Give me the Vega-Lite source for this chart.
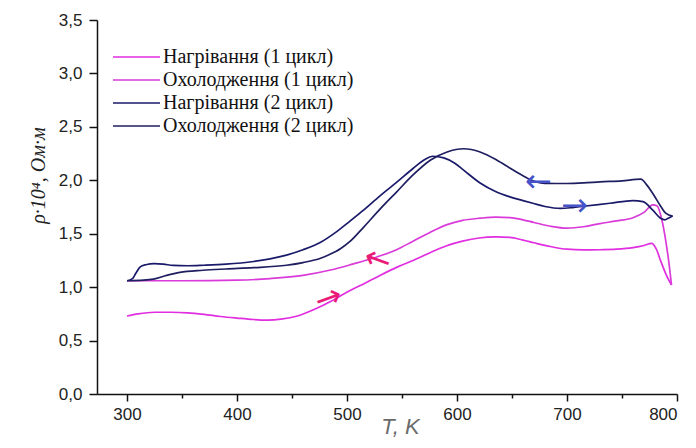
{
  "$schema": "https://vega.github.io/schema/vega-lite/v6.json",
  "width": 580,
  "height": 374,
  "autosize": "none",
  "padding": {"left": 97, "top": 20, "right": 19, "bottom": 54},
  "background": "white",
  "config": {"view": {"stroke": null}, "font": "Liberation Sans"},
  "datasets": {
    "curves": [
      {"s": "Нагрівання (1 цикл)", "T": 300, "r": 0.73},
      {"s": "Нагрівання (1 цикл)", "T": 310, "r": 0.75},
      {"s": "Нагрівання (1 цикл)", "T": 325, "r": 0.765},
      {"s": "Нагрівання (1 цикл)", "T": 340, "r": 0.765},
      {"s": "Нагрівання (1 цикл)", "T": 355, "r": 0.76},
      {"s": "Нагрівання (1 цикл)", "T": 370, "r": 0.745},
      {"s": "Нагрівання (1 цикл)", "T": 385, "r": 0.725},
      {"s": "Нагрівання (1 цикл)", "T": 400, "r": 0.71},
      {"s": "Нагрівання (1 цикл)", "T": 415, "r": 0.697},
      {"s": "Нагрівання (1 цикл)", "T": 428, "r": 0.692},
      {"s": "Нагрівання (1 цикл)", "T": 440, "r": 0.7},
      {"s": "Нагрівання (1 цикл)", "T": 455, "r": 0.73},
      {"s": "Нагрівання (1 цикл)", "T": 470, "r": 0.79},
      {"s": "Нагрівання (1 цикл)", "T": 485, "r": 0.865},
      {"s": "Нагрівання (1 цикл)", "T": 495, "r": 0.925},
      {"s": "Нагрівання (1 цикл)", "T": 505, "r": 0.98},
      {"s": "Нагрівання (1 цикл)", "T": 515, "r": 1.03},
      {"s": "Нагрівання (1 цикл)", "T": 530, "r": 1.11},
      {"s": "Нагрівання (1 цикл)", "T": 545, "r": 1.185},
      {"s": "Нагрівання (1 цикл)", "T": 560, "r": 1.25},
      {"s": "Нагрівання (1 цикл)", "T": 575, "r": 1.32},
      {"s": "Нагрівання (1 цикл)", "T": 590, "r": 1.385},
      {"s": "Нагрівання (1 цикл)", "T": 605, "r": 1.43},
      {"s": "Нагрівання (1 цикл)", "T": 620, "r": 1.46},
      {"s": "Нагрівання (1 цикл)", "T": 635, "r": 1.47},
      {"s": "Нагрівання (1 цикл)", "T": 648, "r": 1.465},
      {"s": "Нагрівання (1 цикл)", "T": 660, "r": 1.44},
      {"s": "Нагрівання (1 цикл)", "T": 670, "r": 1.415},
      {"s": "Нагрівання (1 цикл)", "T": 685, "r": 1.38},
      {"s": "Нагрівання (1 цикл)", "T": 700, "r": 1.355},
      {"s": "Нагрівання (1 цикл)", "T": 715, "r": 1.348},
      {"s": "Нагрівання (1 цикл)", "T": 730, "r": 1.35},
      {"s": "Нагрівання (1 цикл)", "T": 745, "r": 1.355},
      {"s": "Нагрівання (1 цикл)", "T": 760, "r": 1.37},
      {"s": "Нагрівання (1 цикл)", "T": 770, "r": 1.39},
      {"s": "Нагрівання (1 цикл)", "T": 777, "r": 1.41},
      {"s": "Нагрівання (1 цикл)", "T": 781, "r": 1.36},
      {"s": "Нагрівання (1 цикл)", "T": 785, "r": 1.25},
      {"s": "Нагрівання (1 цикл)", "T": 790, "r": 1.12},
      {"s": "Нагрівання (1 цикл)", "T": 795, "r": 1.02},

      {"s": "Охолодження (1 цикл)", "T": 300, "r": 1.06},
      {"s": "Охолодження (1 цикл)", "T": 320, "r": 1.06},
      {"s": "Охолодження (1 цикл)", "T": 350, "r": 1.06},
      {"s": "Охолодження (1 цикл)", "T": 400, "r": 1.065},
      {"s": "Охолодження (1 цикл)", "T": 430, "r": 1.08},
      {"s": "Охолодження (1 цикл)", "T": 460, "r": 1.11},
      {"s": "Охолодження (1 цикл)", "T": 485, "r": 1.16},
      {"s": "Охолодження (1 цикл)", "T": 505, "r": 1.215},
      {"s": "Охолодження (1 цикл)", "T": 525, "r": 1.275},
      {"s": "Охолодження (1 цикл)", "T": 545, "r": 1.35},
      {"s": "Охолодження (1 цикл)", "T": 560, "r": 1.43},
      {"s": "Охолодження (1 цикл)", "T": 575, "r": 1.51},
      {"s": "Охолодження (1 цикл)", "T": 591, "r": 1.585},
      {"s": "Охолодження (1 цикл)", "T": 605, "r": 1.625},
      {"s": "Охолодження (1 цикл)", "T": 621, "r": 1.645},
      {"s": "Охолодження (1 цикл)", "T": 635, "r": 1.655},
      {"s": "Охолодження (1 цикл)", "T": 648, "r": 1.65},
      {"s": "Охолодження (1 цикл)", "T": 660, "r": 1.63},
      {"s": "Охолодження (1 цикл)", "T": 670, "r": 1.605},
      {"s": "Охолодження (1 цикл)", "T": 685, "r": 1.57},
      {"s": "Охолодження (1 цикл)", "T": 700, "r": 1.552},
      {"s": "Охолодження (1 цикл)", "T": 715, "r": 1.565},
      {"s": "Охолодження (1 цикл)", "T": 730, "r": 1.595},
      {"s": "Охолодження (1 цикл)", "T": 745, "r": 1.62},
      {"s": "Охолодження (1 цикл)", "T": 760, "r": 1.65},
      {"s": "Охолодження (1 цикл)", "T": 770, "r": 1.7},
      {"s": "Охолодження (1 цикл)", "T": 778, "r": 1.77},
      {"s": "Охолодження (1 цикл)", "T": 782, "r": 1.76},
      {"s": "Охолодження (1 цикл)", "T": 786, "r": 1.64},
      {"s": "Охолодження (1 цикл)", "T": 790, "r": 1.42},
      {"s": "Охолодження (1 цикл)", "T": 793, "r": 1.2},
      {"s": "Охолодження (1 цикл)", "T": 795, "r": 1.02},

      {"s": "Нагрівання (2 цикл)", "T": 300, "r": 1.06},
      {"s": "Нагрівання (2 цикл)", "T": 305, "r": 1.08},
      {"s": "Нагрівання (2 цикл)", "T": 308, "r": 1.13},
      {"s": "Нагрівання (2 цикл)", "T": 312, "r": 1.19},
      {"s": "Нагрівання (2 цикл)", "T": 317, "r": 1.21},
      {"s": "Нагрівання (2 цикл)", "T": 325, "r": 1.22},
      {"s": "Нагрівання (2 цикл)", "T": 333, "r": 1.215},
      {"s": "Нагрівання (2 цикл)", "T": 342, "r": 1.203},
      {"s": "Нагрівання (2 цикл)", "T": 355, "r": 1.2},
      {"s": "Нагрівання (2 цикл)", "T": 370, "r": 1.205},
      {"s": "Нагрівання (2 цикл)", "T": 390, "r": 1.215},
      {"s": "Нагрівання (2 цикл)", "T": 415, "r": 1.24},
      {"s": "Нагрівання (2 цикл)", "T": 430, "r": 1.265},
      {"s": "Нагрівання (2 цикл)", "T": 445, "r": 1.3},
      {"s": "Нагрівання (2 цикл)", "T": 460, "r": 1.35},
      {"s": "Нагрівання (2 цикл)", "T": 476, "r": 1.42},
      {"s": "Нагрівання (2 цикл)", "T": 490, "r": 1.515},
      {"s": "Нагрівання (2 цикл)", "T": 503, "r": 1.62},
      {"s": "Нагрівання (2 цикл)", "T": 515, "r": 1.72},
      {"s": "Нагрівання (2 цикл)", "T": 530, "r": 1.855},
      {"s": "Нагрівання (2 цикл)", "T": 545, "r": 1.98},
      {"s": "Нагрівання (2 цикл)", "T": 560, "r": 2.11},
      {"s": "Нагрівання (2 цикл)", "T": 570, "r": 2.19},
      {"s": "Нагрівання (2 цикл)", "T": 578, "r": 2.225},
      {"s": "Нагрівання (2 цикл)", "T": 588, "r": 2.21},
      {"s": "Нагрівання (2 цикл)", "T": 598, "r": 2.16},
      {"s": "Нагрівання (2 цикл)", "T": 606, "r": 2.095},
      {"s": "Нагрівання (2 цикл)", "T": 621, "r": 1.975},
      {"s": "Нагрівання (2 цикл)", "T": 635, "r": 1.895},
      {"s": "Нагрівання (2 цикл)", "T": 648, "r": 1.845},
      {"s": "Нагрівання (2 цикл)", "T": 660, "r": 1.81},
      {"s": "Нагрівання (2 цикл)", "T": 669, "r": 1.785},
      {"s": "Нагрівання (2 цикл)", "T": 680, "r": 1.755},
      {"s": "Нагрівання (2 цикл)", "T": 694, "r": 1.737},
      {"s": "Нагрівання (2 цикл)", "T": 705, "r": 1.745},
      {"s": "Нагрівання (2 цикл)", "T": 715, "r": 1.757},
      {"s": "Нагрівання (2 цикл)", "T": 739, "r": 1.785},
      {"s": "Нагрівання (2 цикл)", "T": 760, "r": 1.81},
      {"s": "Нагрівання (2 цикл)", "T": 769, "r": 1.8},
      {"s": "Нагрівання (2 цикл)", "T": 778, "r": 1.72},
      {"s": "Нагрівання (2 цикл)", "T": 785, "r": 1.645},
      {"s": "Нагрівання (2 цикл)", "T": 789, "r": 1.63},
      {"s": "Нагрівання (2 цикл)", "T": 792, "r": 1.645},
      {"s": "Нагрівання (2 цикл)", "T": 796, "r": 1.665},

      {"s": "Охолодження (2 цикл)", "T": 300, "r": 1.06},
      {"s": "Охолодження (2 цикл)", "T": 315, "r": 1.065},
      {"s": "Охолодження (2 цикл)", "T": 324, "r": 1.075},
      {"s": "Охолодження (2 цикл)", "T": 336, "r": 1.11},
      {"s": "Охолодження (2 цикл)", "T": 348, "r": 1.138},
      {"s": "Охолодження (2 цикл)", "T": 369, "r": 1.158},
      {"s": "Охолодження (2 цикл)", "T": 390, "r": 1.17},
      {"s": "Охолодження (2 цикл)", "T": 415, "r": 1.182},
      {"s": "Охолодження (2 цикл)", "T": 445, "r": 1.205},
      {"s": "Охолодження (2 цикл)", "T": 460, "r": 1.23},
      {"s": "Охолодження (2 цикл)", "T": 476, "r": 1.27},
      {"s": "Охолодження (2 цикл)", "T": 485, "r": 1.31},
      {"s": "Охолодження (2 цикл)", "T": 494, "r": 1.36},
      {"s": "Охолодження (2 цикл)", "T": 503, "r": 1.43},
      {"s": "Охолодження (2 цикл)", "T": 515, "r": 1.56},
      {"s": "Охолодження (2 цикл)", "T": 530, "r": 1.73},
      {"s": "Охолодження (2 цикл)", "T": 545, "r": 1.89},
      {"s": "Охолодження (2 цикл)", "T": 560, "r": 2.05},
      {"s": "Охолодження (2 цикл)", "T": 576, "r": 2.19},
      {"s": "Охолодження (2 цикл)", "T": 591, "r": 2.265},
      {"s": "Охолодження (2 цикл)", "T": 606, "r": 2.295},
      {"s": "Охолодження (2 цикл)", "T": 621, "r": 2.265},
      {"s": "Охолодження (2 цикл)", "T": 636, "r": 2.19},
      {"s": "Охолодження (2 цикл)", "T": 648, "r": 2.115},
      {"s": "Охолодження (2 цикл)", "T": 656, "r": 2.065},
      {"s": "Охолодження (2 цикл)", "T": 664, "r": 2.02},
      {"s": "Охолодження (2 цикл)", "T": 672, "r": 1.985},
      {"s": "Охолодження (2 цикл)", "T": 680, "r": 1.972},
      {"s": "Охолодження (2 цикл)", "T": 700, "r": 1.97},
      {"s": "Охолодження (2 цикл)", "T": 715, "r": 1.975},
      {"s": "Охолодження (2 цикл)", "T": 730, "r": 1.985},
      {"s": "Охолодження (2 цикл)", "T": 750, "r": 1.995},
      {"s": "Охолодження (2 цикл)", "T": 767, "r": 2.01},
      {"s": "Охолодження (2 цикл)", "T": 773, "r": 1.95},
      {"s": "Охолодження (2 цикл)", "T": 779, "r": 1.86},
      {"s": "Охолодження (2 цикл)", "T": 785, "r": 1.76},
      {"s": "Охолодження (2 цикл)", "T": 790, "r": 1.69},
      {"s": "Охолодження (2 цикл)", "T": 796, "r": 1.665}
    ],
    "arrowPinkRight": [{"T": 483, "r": 0.895, "a": "→"}],
    "arrowPinkLeft": [{"T": 528, "r": 1.255, "a": "←"}],
    "arrowBlueLeft": [{"T": 674, "r": 1.98, "a": "←"}],
    "arrowBlueRight": [{"T": 707, "r": 1.757, "a": "→"}]
  },
  "layer": [
    {
      "data": {"name": "curves"},
      "mark": {"type": "line", "interpolate": "monotone", "strokeWidth": 1.7},
      "encoding": {
        "x": {
          "field": "T", "type": "quantitative",
          "scale": {"domain": [272.7, 800], "nice": false, "zero": false},
          "axis": {
            "values": [300, 350, 400, 450, 500, 550, 600, 650, 700, 750, 800],
            "labelExpr": "datum.value % 100 === 0 ? datum.label : ''",
            "format": "d",
            "tickSize": {"condition": {"test": "datum.value % 100 === 0", "value": 7}, "value": 4},
            "grid": false,
            "domainColor": "#111", "tickColor": "#111", "domainWidth": 1.5, "tickWidth": 1.5,
            "labelFont": "Liberation Sans", "labelFontSize": 17, "labelColor": "#222", "labelPadding": 5,
            "title": "T, K", "titleFont": "Liberation Sans", "titleFontStyle": "italic", "titleFontWeight": "normal",
            "titleFontSize": 22, "titleColor": "#6b6b6b", "titleX": 303, "titleY": 32, "titleBaseline": "middle", "titleAlign": "center"
          }
        },
        "y": {
          "field": "r", "type": "quantitative",
          "scale": {"domain": [0, 3.5], "nice": false},
          "axis": {
            "values": [0, 0.25, 0.5, 0.75, 1, 1.25, 1.5, 1.75, 2, 2.25, 2.5, 2.75, 3, 3.25, 3.5],
            "labelExpr": "datum.value % 0.5 === 0 ? replace(format(datum.value, '.1f'), '.', ',') : ''",
            "tickSize": {"condition": {"test": "datum.value % 0.5 === 0", "value": 8}, "value": 4},
            "grid": false,
            "domainColor": "#111", "tickColor": "#111", "domainWidth": 1.5, "tickWidth": 1.5,
            "labelFont": "Liberation Sans", "labelFontSize": 17, "labelColor": "#222", "labelPadding": 7,
            "title": "ρ·10⁴, Ом·м", "titleFont": "Liberation Serif", "titleFontStyle": "italic", "titleFontWeight": "normal",
            "titleFontSize": 20, "titleColor": "#222", "titleX": -59, "titleY": 155, "titleBaseline": "middle", "titleAlign": "center", "titleAngle": -90
          }
        },
        "color": {
          "field": "s", "type": "nominal",
          "scale": {
            "domain": ["Нагрівання (1 цикл)", "Охолодження (1 цикл)", "Нагрівання (2 цикл)", "Охолодження (2 цикл)"],
            "range": ["#e02ee0", "#d93ad9", "#1a1a6a", "#1e1e60"]
          },
          "legend": {
            "orient": "none", "legendX": 11, "legendY": 27, "title": null,
            "symbolType": "M-1,0H8.4", "symbolSize": 100, "symbolStrokeWidth": 1.5,
            "labelFont": "Liberation Serif", "labelFontSize": 20, "labelColor": "#111",
            "rowPadding": 3, "labelOffset": 35, "labelLimit": 400
          }
        }
      }
    },
    {
      "data": {"name": "arrowPinkRight"},
      "mark": {"type": "text", "font": "DejaVu Sans", "fontSize": 32, "angle": 340, "color": "#ea1a78", "align": "center", "baseline": "middle"},
      "encoding": {"x": {"field": "T", "type": "quantitative"}, "y": {"field": "r", "type": "quantitative"}, "text": {"field": "a"}}
    },
    {
      "data": {"name": "arrowPinkLeft"},
      "mark": {"type": "text", "font": "DejaVu Sans", "fontSize": 32, "angle": 20, "color": "#ea1a78", "align": "center", "baseline": "middle"},
      "encoding": {"x": {"field": "T", "type": "quantitative"}, "y": {"field": "r", "type": "quantitative"}, "text": {"field": "a"}}
    },
    {
      "data": {"name": "arrowBlueLeft"},
      "mark": {"type": "text", "font": "DejaVu Sans", "fontSize": 32, "angle": 0, "color": "#4653c8", "align": "center", "baseline": "middle"},
      "encoding": {"x": {"field": "T", "type": "quantitative"}, "y": {"field": "r", "type": "quantitative"}, "text": {"field": "a"}}
    },
    {
      "data": {"name": "arrowBlueRight"},
      "mark": {"type": "text", "font": "DejaVu Sans", "fontSize": 32, "angle": 0, "color": "#4653c8", "align": "center", "baseline": "middle"},
      "encoding": {"x": {"field": "T", "type": "quantitative"}, "y": {"field": "r", "type": "quantitative"}, "text": {"field": "a"}}
    }
  ]
}
